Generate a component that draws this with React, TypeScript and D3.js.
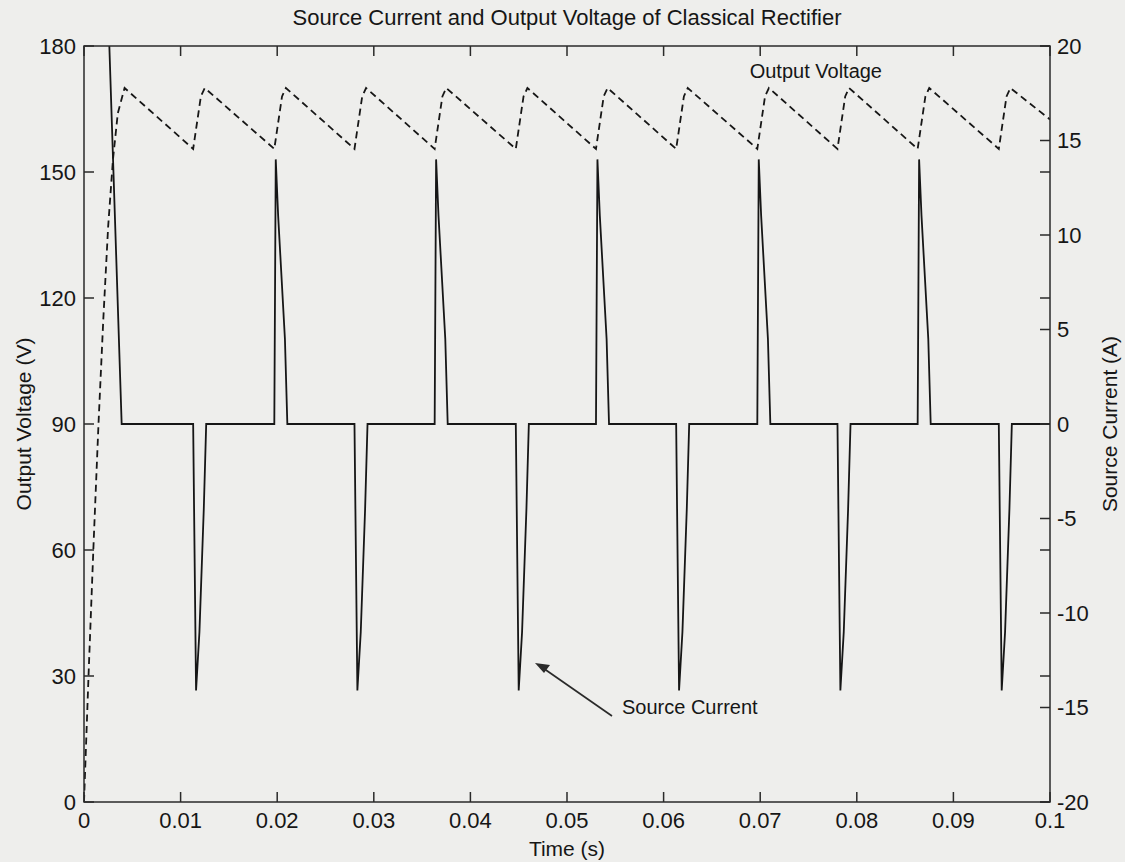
import React from "react";
import * as d3 from "d3";

// tick values
const timeTicks = [0, 0.01, 0.02, 0.03, 0.04, 0.05, 0.06, 0.07, 0.08, 0.09, 0.1];
const voltTicks = [0, 30, 60, 90, 120, 150, 180];
const ampTicks = [-20, -15, -10, -5, 0, 5, 10, 15, 20];

// output voltage (dashed, left axis)
const voltTime = [
  0, 0.0005, 0.001, 0.0015, 0.002, 0.0025, 0.003, 0.0035, 0.0042,
  0.0113, 0.0121, 0.0125,
  0.0197, 0.0205, 0.0209,
  0.028, 0.0288, 0.0292,
  0.0363, 0.0371, 0.0375,
  0.0447, 0.0455, 0.0459,
  0.053, 0.0538, 0.0542,
  0.0613, 0.0621, 0.0625,
  0.0697, 0.0705, 0.0709,
  0.078, 0.0788, 0.0792,
  0.0863, 0.0871, 0.0875,
  0.0947, 0.0955, 0.0959,
  0.1,
];
const voltValue = [
  0, 32, 62, 90, 115, 137, 153, 164, 170,
  155.5, 168, 170,
  155.5, 168, 170,
  155.5, 168, 170,
  155.5, 168, 170,
  155.5, 168, 170,
  155.5, 168, 170,
  155.5, 168, 170,
  155.5, 168, 170,
  155.5, 168, 170,
  155.5, 168, 170,
  155.5, 168, 170,
  162.5,
];

// source current (solid, right axis)
const currentTime = [
  0.0024, 0.0039,
  0.0113, 0.0116, 0.01195, 0.0124, 0.01265,
  0.0197, 0.01985, 0.0201, 0.0208, 0.02105,
  0.028, 0.0283, 0.02865, 0.0291, 0.02935,
  0.0363, 0.03645, 0.0367, 0.0374, 0.03765,
  0.0447, 0.045, 0.04535, 0.0458, 0.04605,
  0.053, 0.05315, 0.0534, 0.0541, 0.05435,
  0.0613, 0.0616, 0.06195, 0.0624, 0.06265,
  0.0697, 0.06985, 0.0701, 0.0708, 0.07105,
  0.078, 0.0783, 0.07865, 0.0791, 0.07935,
  0.0863, 0.08645, 0.0867, 0.0874, 0.08765,
  0.0947, 0.095, 0.09535, 0.0958, 0.09605,
  0.1,
];
const currentAmp = [
  23.5, 0,
  0, -14.1, -11, -4.5, 0,
  0, 14, 11, 4.5, 0,
  0, -14.1, -11, -4.5, 0,
  0, 14, 11, 4.5, 0,
  0, -14.1, -11, -4.5, 0,
  0, 14, 11, 4.5, 0,
  0, -14.1, -11, -4.5, 0,
  0, 14, 11, 4.5, 0,
  0, -14.1, -11, -4.5, 0,
  0, 14, 11, 4.5, 0,
  0, -14.1, -11, -4.5, 0,
  0,
];

const W = 1125, H = 862;
const margin = { top: 46, right: 75, bottom: 60, left: 84 };
const FONT = "'Liberation Sans', Arial, Helvetica, sans-serif";
const INK = "#161616";

export default function App() {
  const x = d3.scaleLinear().domain([0, 0.1]).range([margin.left, W - margin.right]);
  const yV = d3.scaleLinear().domain([0, 180]).range([H - margin.bottom, margin.top]);
  const yA = d3.scaleLinear().domain([-20, 20]).range([H - margin.bottom, margin.top]);

  const x0 = x(0), x1 = x(0.1), yb = yV(0), yt = yV(180);
  const tk = 10;

  const voltLine = d3.line<number>().x((_, i) => x(voltTime[i])).y((d) => yV(d));
  const ampLine = d3.line<number>().x((_, i) => x(currentTime[i])).y((d) => yA(d));

  return (
    <svg width={W} height={H} style={{ position: "absolute", left: 0, top: 0 }} fontFamily={FONT}>
      <rect width={W} height={H} fill="#eeeeec" />
      <defs>
        <clipPath id="plotArea">
          <rect x={x0} y={yt} width={x1 - x0} height={yb - yt} />
        </clipPath>
      </defs>

      <text x={(x0 + x1) / 2} y={25} textAnchor="middle" fontSize={22} fill={INK}>
        Source Current and Output Voltage of Classical Rectifier
      </text>

      <g clipPath="url(#plotArea)" fill="none" stroke={INK} strokeWidth={1.8}>
        <path d={voltLine(voltValue) || ""} strokeDasharray="7,4.5" />
        <path d={ampLine(currentAmp) || ""} strokeLinejoin="miter" />
      </g>

      {/* frame */}
      <rect x={x0} y={yt} width={x1 - x0} height={yb - yt} fill="none" stroke="#2a2a2a" strokeWidth={1.5} />

      {/* x ticks bottom + top */}
      {timeTicks.map((t) => (
        <g key={"x" + t}>
          <line x1={x(t)} x2={x(t)} y1={yb} y2={yb - tk} stroke="#2a2a2a" strokeWidth={1.5} />
          <line x1={x(t)} x2={x(t)} y1={yt} y2={yt + tk} stroke="#2a2a2a" strokeWidth={1.5} />
          <text x={x(t)} y={828} textAnchor="middle" fontSize={22} fill={INK}>
            {String(t)}
          </text>
        </g>
      ))}

      {/* left axis ticks (mirrored on the right) */}
      {voltTicks.map((v) => (
        <g key={"v" + v}>
          <line x1={x0} x2={x0 + tk} y1={yV(v)} y2={yV(v)} stroke="#2a2a2a" strokeWidth={1.5} />
          <line x1={x1} x2={x1 - tk} y1={yV(v)} y2={yV(v)} stroke="#2a2a2a" strokeWidth={1.5} />
          <text x={76} y={yV(v)} dy="0.36em" textAnchor="end" fontSize={22} fill={INK}>
            {v}
          </text>
        </g>
      ))}

      {/* right axis ticks */}
      {ampTicks.map((a) => (
        <g key={"a" + a}>
          <line x1={x1} x2={x1 - tk} y1={yA(a)} y2={yA(a)} stroke="#2a2a2a" strokeWidth={1.5} />
          <text x={1057} y={yA(a)} dy="0.36em" textAnchor="start" fontSize={22} fill={INK}>
            {a}
          </text>
        </g>
      ))}

      <text x={(x0 + x1) / 2} y={856} textAnchor="middle" fontSize={21} fill={INK}>
        Time (s)
      </text>
      <text transform={`translate(31,${(yt + yb) / 2}) rotate(-90)`} textAnchor="middle" fontSize={21} fill={INK}>
        Output Voltage (V)
      </text>
      <text transform={`translate(1117,${(yt + yb) / 2}) rotate(-90)`} textAnchor="middle" fontSize={21} fill={INK}>
        Source Current (A)
      </text>

      {/* annotations */}
      <text x={882} y={78} textAnchor="end" fontSize={20} fill={INK}>
        Output Voltage
      </text>
      <text x={622} y={714} textAnchor="start" fontSize={20} fill={INK}>
        Source Current
      </text>
      <line x1={612} y1={716} x2={543} y2={668} stroke="#2a2a2a" strokeWidth={1.6} />
      <path d="M535,663 L550,665 L544,673 Z" fill="#2a2a2a" />
    </svg>
  );
}
